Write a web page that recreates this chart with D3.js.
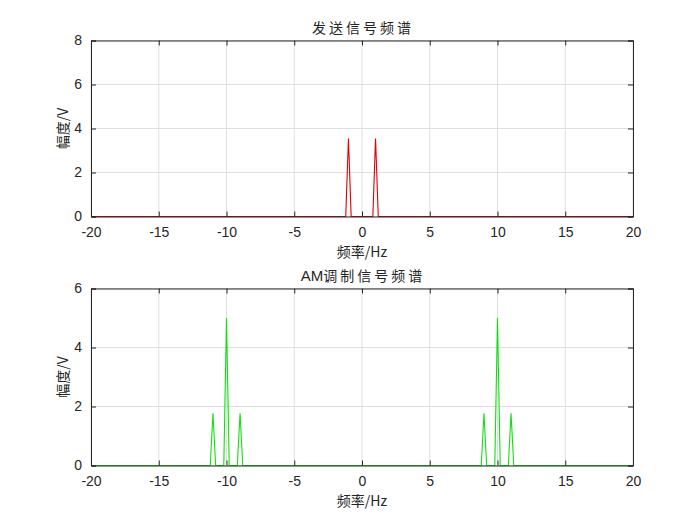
<!DOCTYPE html>
<html><head><meta charset="utf-8">
<script src="https://cdn.jsdelivr.net/npm/d3@7"></script>
<style>
html,body{margin:0;padding:0;background:#fff;}
svg{display:block;}
</style></head>
<body>
<script>
// ---- data ----
const xTicks = [-20,-15,-10,-5,0,5,10,15,20];
const yTicksTop = [0,2,4,6,8];
const yTicksBottom = [0,2,4,6];
// spectrum of transmitted signal: vertices [frequency Hz, amplitude V]
const sendFreq = [-20,-1.2,-1,-0.8,0.8,1,1.2,20];
const sendAmp  = [0,0,3.55,0,0,3.55,0,0];
// AM modulated signal spectrum
const amFreq = [-20,-11.2,-11,-10.8,-10.2,-10,-9.8,-9.2,-9,-8.8,8.8,9,9.2,9.8,10,10.2,10.8,11,11.2,20];
const amAmp  = [0,0,1.77,0,0,5.0,0,0,1.77,0,0,1.77,0,0,5.0,0,0,1.77,0,0];
const titles = [["","发送信号频谱"],["AM","调制信号频谱"]];
const xLabel = "频率/Hz";
const yLabel = "幅度/V";

const W=700,H=525;
const svg=d3.select("body").append("svg").attr("width",W).attr("height",H);
svg.append("rect").attr("width",W).attr("height",H).attr("fill","#fff");

const cjk = "'Noto Sans CJK SC','Noto Sans',sans-serif";
const num = "'Liberation Sans',Arial,sans-serif";

function panel(top,bottom,yMax,yTicks,freq,amp,color,title){
  const x=d3.scaleLinear().domain([-20,20]).range([91,633]);
  const y=d3.scaleLinear().domain([0,yMax]).range([bottom,top]);
  const g=svg.append("g");
  // grid
  g.selectAll(".gx").data(xTicks).enter().append("line")
    .attr("x1",d=>x(d)).attr("x2",d=>x(d)).attr("y1",top).attr("y2",bottom)
    .attr("stroke","#dfdfdf").attr("stroke-width",1);
  g.selectAll(".gy").data(yTicks).enter().append("line")
    .attr("y1",d=>y(d)).attr("y2",d=>y(d)).attr("x1",91).attr("x2",633)
    .attr("stroke","#dfdfdf").attr("stroke-width",1);
  // line
  const pts=freq.map((f,i)=>[f,amp[i]]);
  g.append("path").datum(pts)
    .attr("d",d3.line().x(d=>x(d[0])).y(d=>y(d[1])))
    .attr("fill","none").attr("stroke",color).attr("stroke-width",1.1);
  // axes (ticks inward)
  const axC="#262626";
  const fmt=d=>String(d);
  const bx=g.append("g").attr("transform",`translate(0,${bottom})`)
    .call(d3.axisBottom(x).tickValues(xTicks).tickSize(-5).tickPadding(11).tickFormat(fmt));
  const tx=g.append("g").attr("transform",`translate(0,${top})`)
    .call(d3.axisTop(x).tickValues(xTicks).tickSize(-5).tickFormat(""));
  const ly=g.append("g").attr("transform",`translate(91,0)`)
    .call(d3.axisLeft(y).tickValues(yTicks).tickSize(-5).tickPadding(9).tickFormat(fmt));
  const ry=g.append("g").attr("transform",`translate(633,0)`)
    .call(d3.axisRight(y).tickValues(yTicks).tickSize(-5).tickFormat(""));
  [bx,tx,ly,ry].forEach(a=>{
    a.select(".domain").attr("stroke",axC).attr("stroke-width",1);
    a.selectAll(".tick line").attr("stroke",axC);
    a.selectAll("text").attr("fill",axC).style("font-family",num).style("font-size","14px");
  });
  // title
  const t=g.append("text").attr("x",363).attr("y",top-8).attr("text-anchor","middle")
    .attr("fill","#262626").style("font-size","14px");
  if(title[0]) t.append("tspan").style("font-family",num).style("font-size","15px").text(title[0]);
  t.append("tspan").style("font-family",cjk).style("letter-spacing","3px").text(title[1]);
  // xlabel
  g.append("text").attr("x",362).attr("y",bottom+40).attr("text-anchor","middle")
    .style("font-family",cjk).style("font-size","14px").attr("fill","#262626").text(xLabel);
  // ylabel
  g.append("text").attr("transform",`translate(68,${(top+bottom)/2}) rotate(-90)`)
    .attr("text-anchor","middle")
    .style("font-family",cjk).style("font-size","14px").attr("fill","#262626").text(yLabel);
}
panel(40.5,216.5,8,yTicksTop,sendFreq,sendAmp,"#e00000",titles[0]);
panel(288.5,465.5,6,yTicksBottom,amFreq,amAmp,"#10e010",titles[1]);
</script>
</body></html>
